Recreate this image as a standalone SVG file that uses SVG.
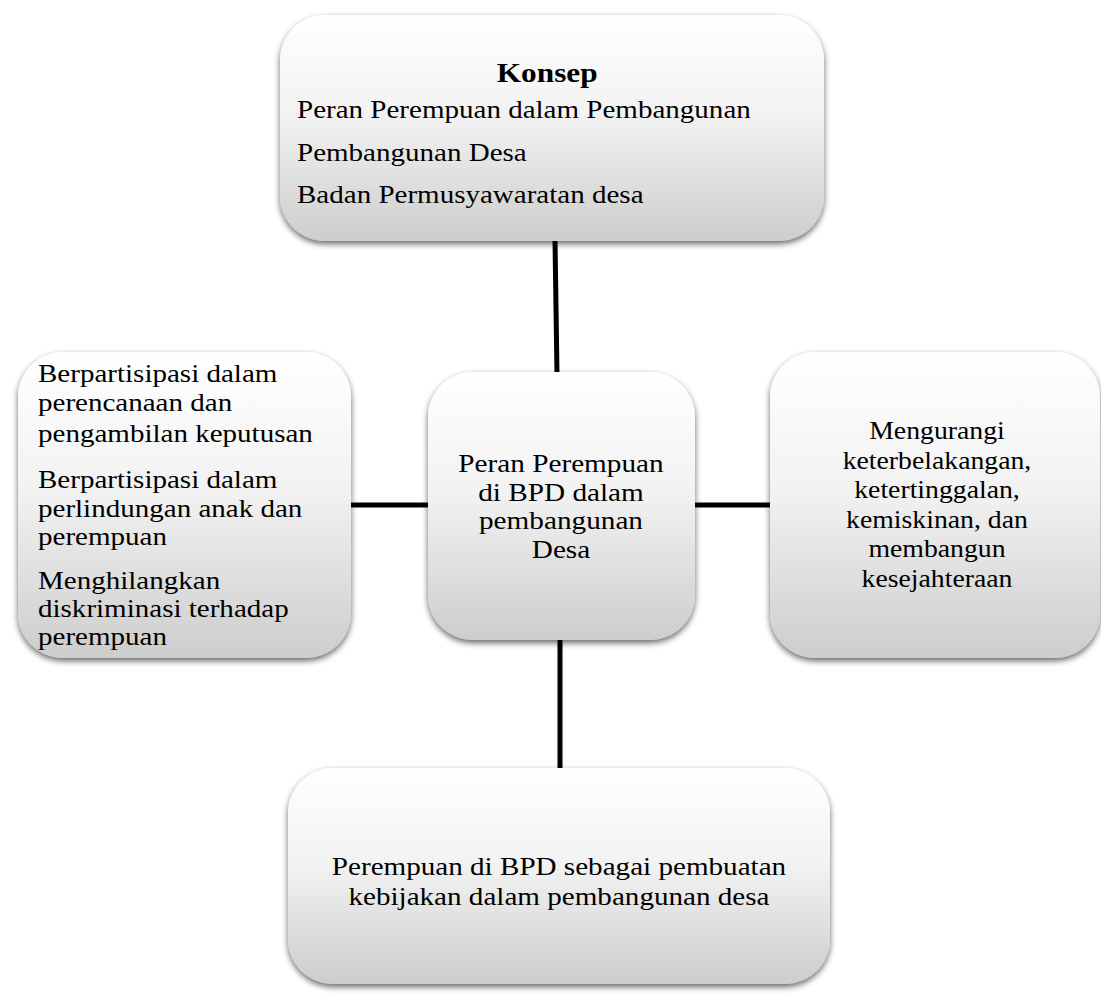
<svg xmlns="http://www.w3.org/2000/svg" width="1101" height="994" viewBox="0 0 1101 994">
<style>
.box{fill:url(#g);filter:url(#sh);}
.t{font-family:"Liberation Serif","Times New Roman",serif;font-size:26px;fill:#000;}
.c{text-anchor:middle;}
.b{font-weight:bold;}
.con{stroke:#000;stroke-width:5;fill:none;}
</style>
<defs>
<linearGradient id="g" x1="0" y1="0" x2="0" y2="1">
<stop offset="0" stop-color="#ffffff"/>
<stop offset="0.45" stop-color="#f2f2f2"/>
<stop offset="1" stop-color="#cdcdcd"/>
</linearGradient>
<filter id="sh" x="-10%" y="-10%" width="120%" height="125%">
<feGaussianBlur in="SourceAlpha" stdDeviation="3"/>
<feOffset dx="0" dy="3" result="b"/>
<feComponentTransfer><feFuncA type="linear" slope="0.6"/></feComponentTransfer>
<feMerge><feMergeNode/><feMergeNode in="SourceGraphic"/></feMerge>
</filter>
</defs>
<rect width="1101" height="994" fill="#fff"/>
<g id="connectors">
<line class="con" x1="555" y1="240" x2="557" y2="374"/>
<line class="con" x1="350" y1="505" x2="430" y2="505"/>
<line class="con" x1="693" y1="505" x2="772" y2="505"/>
<line class="con" x1="560" y1="638" x2="560" y2="770"/>
</g>
<g id="top">
<rect class="box" x="280" y="15" width="544" height="226" rx="45"/>
<g transform="translate(297,0) scale(1.117,1) translate(-297,0)">
<text class="t b c" x="521" y="82" style="font-size:28px">Konsep</text>
<text class="t" x="297" y="118">Peran Perempuan dalam Pembangunan</text>
<text class="t" x="297" y="161">Pembangunan Desa</text>
<text class="t" x="297" y="203">Badan Permusyawaratan desa</text>
</g>
</g>
<g id="left">
<rect class="box" x="18" y="352" width="333" height="306" rx="45"/>
<g transform="translate(38,0) scale(1.117,1) translate(-38,0)">
<text class="t" x="38" y="382">Berpartisipasi dalam</text>
<text class="t" x="38" y="411">perencanaan dan</text>
<text class="t" x="38" y="442">pengambilan keputusan</text>
<text class="t" x="38" y="488">Berpartisipasi dalam</text>
<text class="t" x="38" y="517">perlindungan anak dan</text>
<text class="t" x="38" y="545">perempuan</text>
<text class="t" x="38" y="589">Menghilangkan</text>
<text class="t" x="38" y="617">diskriminasi terhadap</text>
<text class="t" x="38" y="645">perempuan</text>
</g>
</g>
<g id="center">
<rect class="box" x="428" y="372" width="267" height="268" rx="45"/>
<g transform="translate(561,0) scale(1.125,1) translate(-561,0)">
<text class="t c" x="561" y="472">Peran Perempuan</text>
<text class="t c" x="561" y="501">di BPD dalam</text>
<text class="t c" x="561" y="529">pembangunan</text>
<text class="t c" x="561" y="558">Desa</text>
</g>
</g>
<g id="right">
<rect class="box" x="770" y="352" width="330" height="306" rx="45"/>
<g transform="translate(937,0) scale(1.067,1) translate(-937,0)">
<text class="t c" x="937" y="439">Mengurangi</text>
<text class="t c" x="937" y="469">keterbelakangan,</text>
<text class="t c" x="937" y="498">ketertinggalan,</text>
<text class="t c" x="937" y="528">kemiskinan, dan</text>
<text class="t c" x="937" y="557">membangun</text>
<text class="t c" x="937" y="587">kesejahteraan</text>
</g>
</g>
<g id="bottom">
<rect class="box" x="288" y="768" width="542" height="216" rx="45"/>
<g transform="translate(559,0) scale(1.12,1) translate(-559,0)">
<text class="t c" x="559" y="875">Perempuan di BPD sebagai pembuatan</text>
<text class="t c" x="559" y="905">kebijakan dalam pembangunan desa</text>
</g>
</g>
</svg>
